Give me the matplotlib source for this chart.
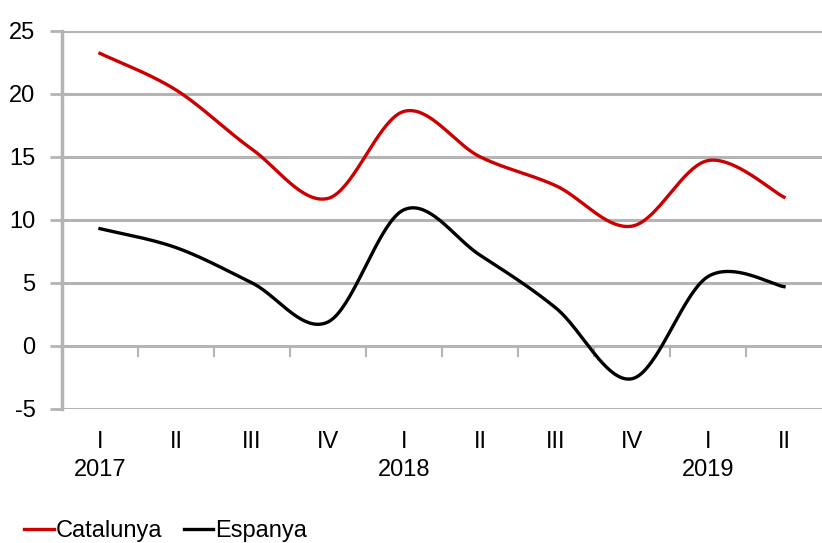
import numpy as np
import matplotlib.pyplot as plt
from matplotlib.ticker import FixedLocator

plt.rcParams['font.family'] = ['Liberation Sans', 'DejaVu Sans']
plt.rcParams['axes.unicode_minus'] = False

quarters = ['I', 'II', 'III', 'IV', 'I', 'II', 'III', 'IV', 'I', 'II']
years = ['2017', '', '', '', '2018', '', '', '', '2019', '']
catalunya = [23.2, 20.3, 15.6, 11.7, 18.6, 15.0, 12.7, 9.5, 14.7, 11.8]
espanya = [9.3, 7.8, 5.0, 1.9, 10.8, 7.2, 3.0, -2.6, 5.5, 4.7]

GRID = '#b4b4b4'


def smooth(y, n=40):
    """Catmull-Rom style bezier smoothing like Excel's smoothed lines."""
    y = np.asarray(y, dtype=float)
    x = np.arange(len(y), dtype=float)
    pts = np.column_stack([x, y])
    out = []
    for i in range(len(pts) - 1):
        p0 = pts[max(i - 1, 0)]
        p1 = pts[i]
        p2 = pts[i + 1]
        p3 = pts[min(i + 2, len(pts) - 1)]
        c1 = p1 + (p2 - p0) / 6
        c2 = p2 - (p3 - p1) / 6
        t = np.linspace(0, 1, n)[:, None]
        seg = ((1 - t) ** 3 * p1 + 3 * (1 - t) ** 2 * t * c1
               + 3 * (1 - t) * t ** 2 * c2 + t ** 3 * p2)
        out.append(seg if i == 0 else seg[1:])
    seg = np.vstack(out)
    return seg[:, 0], seg[:, 1]


fig = plt.figure(figsize=(8.22, 5.43), dpi=100)
ax = fig.add_axes([0.0754, 0.2468, 0.9246, 0.6967])

for v in range(-5, 30, 5):
    if v != 0:
        ax.axhline(v, color=GRID, lw=2.2, zorder=1)

xc, yc = smooth(catalunya)
xe, ye = smooth(espanya)
ax.plot(xc, yc, color='#cc0000', lw=2.4, zorder=3, label='Catalunya')
ax.plot(xe, ye, color='#000000', lw=2.4, zorder=3, label='Espanya')

ax.set_xlim(-0.5, 9.5)
ax.set_ylim(-5, 25)
ax.set_yticks(range(-5, 30, 5))
ax.tick_params(axis='y', length=9, width=2, color=GRID, labelsize=17, pad=10)

for s in ['top', 'right']:
    ax.spines[s].set_visible(False)
ax.spines['left'].set_color(GRID)
ax.spines['left'].set_linewidth(2.5)
ax.spines['bottom'].set_position(('data', 0))
ax.spines['bottom'].set_color(GRID)
ax.spines['bottom'].set_linewidth(2.2)

ax.set_xticks(range(len(quarters)))
ax.set_xticklabels([q + '\n' + yr for q, yr in zip(quarters, years)],
                   fontsize=17, linespacing=1.4, va='top')
ax.xaxis.set_minor_locator(FixedLocator(np.arange(0.5, 9, 1)))
ax.tick_params(axis='x', which='major', length=0, pad=61)
ax.tick_params(axis='x', which='minor', length=8, width=1.5, color=GRID)

fig.legend(loc='lower left', bbox_to_anchor=(0.012, -0.025), ncol=2, frameon=False,
           fontsize=17, handlelength=1.25, handletextpad=0.1, columnspacing=0.9,
           borderaxespad=0.2)

fig.savefig('out.png', dpi=100)
